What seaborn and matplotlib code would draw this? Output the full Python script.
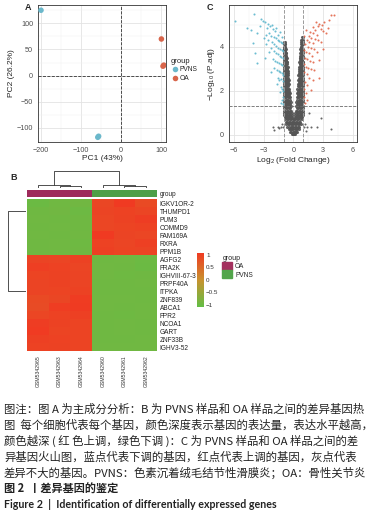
import numpy as np
import pandas as pd
import seaborn as sns
import matplotlib.pyplot as plt
from matplotlib.colors import LinearSegmentedColormap, ListedColormap
from matplotlib.patches import Patch

# ---------------- data ----------------
# A: PCA
pca_pc1 = [-200, -58, -56, 101, 107, 105]
pca_pc2 = [125, -118, -116, 70, 20, 18]
pca_group = ["PVNS", "PVNS", "PVNS", "OA", "OA", "OA"]

# C: volcano, grey cloud read row by row (y level -> x positions)
gray_levels = [0.02, 0.12, 0.25, 0.35, 0.5, 0.7, 0.9, 1.1, 1.3, 1.5, 1.7, 1.9, 2.1,
               2.3, 2.5, 2.7, 2.9, 3.1, 3.3, 3.5, 3.7, 3.9, 4.1, 4.3, 4.45,
               0.6, 0.8, 1.0, 1.2, 1.4, 1.6, 1.8, 2.0, 2.2, 2.4, 2.6, 2.8, 3.0,
               3.2, 3.4, 3.6, 3.8, 4.0, 4.2]
gray_rows = [
    [-0.2, -0.1, 0.0, 0.08, 0.18],
    [-0.35, -0.22, -0.1, 0.02, 0.12, 0.25, 0.34],
    [-0.5, -0.38, -0.25, -0.12, 0.0, 0.13, 0.27, 0.4, 0.52],
    [-0.62, -0.45, -0.3, -0.15, 0.0, 0.15, 0.3, 0.46, 0.6],
    [-0.75, -0.6, -0.45, -0.3, -0.15, 0.0, 0.15, 0.3, 0.45, 0.6, 0.76],
    [-0.85, -0.7, -0.55, -0.4, -0.25, -0.1, 0.05, 0.2, 0.35, 0.5, 0.65, 0.82],
    [-0.95, -0.8, -0.65, -0.5, -0.35, -0.2, 0.2, 0.35, 0.5, 0.65, 0.8, 0.95],
    [-1.0, -0.85, -0.7, -0.55, -0.4, -0.25, 0.25, 0.4, 0.55, 0.7, 0.85, 1.0],
    [-0.98, -0.84, -0.7, -0.56, -0.42, -0.28, 0.28, 0.42, 0.56, 0.7, 0.84, 0.98],
    [-0.97, -0.83, -0.69, -0.55, -0.41, -0.3, 0.3, 0.42, 0.56, 0.7, 0.84, 0.98],
    [-0.98, -0.85, -0.72, -0.59, -0.46, -0.34, 0.34, 0.46, 0.59, 0.72, 0.85, 0.98],
    [-0.98, -0.86, -0.74, -0.62, -0.5, -0.38, 0.36, 0.48, 0.6, 0.72, 0.85, 0.98],
    [-0.98, -0.87, -0.76, -0.65, -0.54, -0.42, 0.4, 0.51, 0.63, 0.75, 0.87, 0.98],
    [-0.98, -0.88, -0.78, -0.68, -0.57, -0.46, 0.44, 0.55, 0.66, 0.77, 0.88, 0.98],
    [-0.98, -0.88, -0.78, -0.69, -0.6, -0.5, 0.47, 0.57, 0.68, 0.78, 0.88, 0.98],
    [-0.98, -0.89, -0.8, -0.71, -0.62, -0.53, 0.5, 0.6, 0.7, 0.8, 0.9, 0.98],
    [-0.98, -0.89, -0.8, -0.72, -0.63, -0.56, 0.53, 0.62, 0.72, 0.81, 0.9, 0.98],
    [-0.98, -0.9, -0.82, -0.74, -0.66, -0.59, 0.56, 0.65, 0.74, 0.82, 0.91, 0.98],
    [-0.98, -0.9, -0.83, -0.75, -0.68, -0.62, 0.58, 0.67, 0.76, 0.84, 0.92, 0.98],
    [-0.98, -0.91, -0.84, -0.77, -0.7, 0.62, 0.7, 0.78, 0.86, 0.94],
    [-0.98, -0.92, -0.85, -0.78, -0.72, 0.66, 0.74, 0.82, 0.9, 0.98],
    [-0.98, -0.92, -0.86, -0.8, 0.7, 0.78, 0.86, 0.94],
    [-0.97, -0.9, -0.84, 0.75, 0.83, 0.91, 0.98],
    [0.8, 0.88, 0.96],
    [0.86, 0.95],
    [-0.8, -0.65, -0.5, -0.35, -0.2, -0.05, 0.1, 0.25, 0.4, 0.55, 0.7],
    [-0.9, -0.75, -0.6, -0.45, -0.3, -0.15, 0.15, 0.3, 0.45, 0.6, 0.75, 0.9],
    [-0.92, -0.78, -0.62, -0.48, -0.33, -0.2, 0.2, 0.33, 0.48, 0.62, 0.78, 0.93],
    [-0.92, -0.77, -0.63, -0.49, -0.35, 0.35, 0.49, 0.63, 0.77, 0.92],
    [-0.91, -0.76, -0.62, -0.48, -0.36, 0.36, 0.49, 0.63, 0.77, 0.91],
    [-0.92, -0.79, -0.66, -0.53, -0.4, 0.4, 0.53, 0.66, 0.79, 0.92],
    [-0.92, -0.8, -0.68, -0.56, -0.44, 0.42, 0.54, 0.66, 0.79, 0.92],
    [-0.93, -0.81, -0.7, -0.59, -0.48, 0.45, 0.57, 0.69, 0.81, 0.93],
    [-0.93, -0.83, -0.73, -0.62, -0.52, 0.49, 0.6, 0.71, 0.82, 0.93],
    [-0.93, -0.83, -0.74, -0.64, -0.55, 0.52, 0.62, 0.73, 0.83, 0.93],
    [-0.94, -0.84, -0.75, -0.66, -0.57, 0.55, 0.65, 0.75, 0.85, 0.94],
    [-0.94, -0.85, -0.76, -0.67, -0.6, 0.58, 0.67, 0.76, 0.85, 0.94],
    [-0.94, -0.86, -0.78, -0.7, -0.62, 0.6, 0.69, 0.78, 0.87, 0.95],
    [-0.94, -0.86, -0.79, -0.72, -0.65, 0.62, 0.71, 0.8, 0.88, 0.95],
    [-0.95, -0.87, -0.8, -0.73, 0.64, 0.73, 0.82, 0.9],
    [-0.95, -0.88, -0.81, -0.75, 0.68, 0.76, 0.84, 0.92],
    [-0.95, -0.89, -0.83, 0.72, 0.8, 0.88, 0.96],
    [-0.94, -0.87, -0.82, 0.73, 0.81, 0.89],
    [-0.95, -0.9, 0.78, 0.86, 0.94],
]
# sparse grey points away from the V
gray_sparse_x = [-2.1, -1.6, -1.3, -1.1, -1.2, 1.1, 1.15, 1.4, 1.8, 2.4, -1.5, 1.6, 2.8, 3.8, -2.0, 1.3]
gray_sparse_y = [0.35, 0.35, 0.35, 0.35, 0.5, 0.35, 0.5, 0.35, 0.35, 0.35, 0.3, 1.0, 0.75, 0.26, 0.22, 0.18]

down_x = [-5.95, -4.05, -4.7, -4.3, -3.65, -4.15, -3.65, -2.3, -1.45, -1.28, -1.1,
          -3.3, -3.05, -2.85, -2.6, -2.4, -2.2, -3.4, -2.7, -2.1, -1.9,
          -2.45, -2.25, -2.0, -1.8, -1.6, -1.45, -1.3, -1.15,
          -2.6, -2.15, -1.95, -1.75, -1.55, -1.35, -1.2, -1.05,
          -2.3, -2.0, -1.8, -1.6, -1.4, -1.25, -1.1,
          -2.1, -1.85, -1.65, -1.45, -1.3, -1.12,
          -1.95, -1.7, -1.5, -1.35, -1.18, -1.05,
          -1.6, -1.3, -1.1, -1.7, -1.2, -1.05, -1.4, -1.15, -1.3, -1.05,
          -2.8, -3.0, -2.75, -2.5, -3.9, -2.9, -1.55, -1.35, -1.2, -1.75]
down_y = [5.17, 5.47, 4.87, 4.75, 4.6, 4.15, 3.24, 2.86, 2.49, 2.19, 1.73,
          5.25, 5.15, 5.1, 5.05, 4.95, 5.0, 4.95, 4.85, 4.8, 4.7,
          4.6, 4.5, 4.45, 4.4, 4.3, 4.25, 4.2, 4.15,
          4.3, 4.2, 4.1, 4.05, 3.95, 3.9, 3.85, 3.8,
          3.95, 3.8, 3.7, 3.65, 3.6, 3.55, 3.5,
          3.45, 3.35, 3.3, 3.25, 3.2, 3.15,
          3.05, 2.95, 2.9, 2.85, 2.8, 2.7,
          2.6, 2.55, 2.45, 2.3, 2.1, 2.0, 1.95, 1.6, 1.45, 1.4,
          4.55, 4.4, 4.1, 3.75, 3.7, 3.5, 4.55, 4.65, 4.45, 4.85]

up_x = [3.8, 4.1, 3.6, 3.45, 2.27, 1.93, 2.1, 1.93, 1.76, 1.42, 3.28,
        2.6, 2.9, 3.1, 2.45, 2.2, 2.75, 3.0, 1.7, 2.0, 2.4, 1.55,
        1.8, 2.15, 1.35, 1.6, 1.95, 2.5, 1.2, 1.45, 1.75, 2.1,
        1.1, 1.3, 1.6, 1.9, 2.35, 1.15, 1.4, 1.7, 2.0, 2.6,
        1.05, 1.25, 1.5, 1.8, 1.1, 1.35, 1.6, 1.15, 1.4, 1.05, 1.25, 1.1, 1.2,
        2.6, 3.0, 2.8, 1.05, 1.3]
up_y = [5.43, 5.43, 5.2, 4.85, 5.13, 4.9, 2.94, 2.49, 2.04, 1.58, 4.6,
        5.05, 5.0, 5.1, 4.95, 4.75, 4.8, 4.7, 4.65, 4.6, 4.55, 4.5,
        4.4, 4.35, 4.3, 4.2, 4.15, 4.3, 4.1, 4.0, 3.95, 3.9,
        3.85, 3.75, 3.7, 3.6, 3.75, 3.5, 3.45, 3.35, 3.3, 3.4,
        3.2, 3.1, 3.05, 3.0, 2.85, 2.75, 2.6, 2.4, 2.25, 2.1, 1.9, 1.7, 1.45,
        2.6, 3.9, 4.2, 4.5, 4.75]

# B: heatmap
genes = ["IGKV1OR-2", "THUMPD1", "PUM3", "COMMD9", "FAM169A", "RXRA", "PPM1B",
         "AGFG2", "FRA2K", "IGHVIII-67-3", "PRPF40A", "ITPKA", "ZNF839", "ABCA1",
         "FPR2", "NCOA1", "GART", "ZNF33B", "IGHV3-52"]
samples = ["GSM5342965", "GSM5342963", "GSM5342964",
           "GSM5342960", "GSM5342961", "GSM5342962"]
sample_group = ["OA", "OA", "OA", "PVNS", "PVNS", "PVNS"]
expr = [
    [-1.00, -0.95, -0.93, 0.92, 1.08, 0.88],
    [-0.96, -0.93, -0.98, 0.95, 0.98, 0.94],
    [-0.95, -0.96, -0.96, 0.93, 0.97, 1.03],
    [-0.96, -0.95, -0.96, 0.93, 0.96, 0.98],
    [-0.95, -0.96, -0.95, 1.08, 0.95, 0.93],
    [-0.96, -0.94, -0.97, 0.98, 0.94, 1.00],
    [-0.96, -0.95, -0.96, 1.00, 0.96, 0.95],
    [0.95, 0.94, 0.97, -0.96, -0.95, -0.99],
    [1.02, 0.98, 0.94, -0.95, -0.96, -1.00],
    [0.96, 0.97, 0.95, -0.95, -0.97, -0.96],
    [0.95, 0.97, 0.95, -0.96, -0.96, -0.95],
    [0.95, 0.96, 0.97, -0.96, -0.96, -0.96],
    [0.88, 0.92, 1.05, -0.94, -0.95, -0.96],
    [0.86, 1.04, 1.06, -0.95, -0.96, -0.95],
    [0.93, 0.98, 1.00, -0.96, -0.97, -0.95],
    [1.03, 0.97, 0.96, -0.96, -0.95, -0.96],
    [1.07, 0.96, 0.96, -0.96, -0.95, -0.96],
    [1.00, 0.98, 0.96, -0.96, -0.96, -0.94],
    [0.98, 0.97, 0.96, -0.95, -0.95, -0.94],
]
# merges (left, right, height), scipy-style ids
col_merges = [(1, 2, 0.6), (0, 6, 1.0), (4, 5, 0.6), (3, 8, 1.0), (7, 9, 5.5)]
row_merges = [(5, 6, 0.05), (4, 19, 0.06), (3, 20, 0.07), (2, 21, 0.08), (1, 22, 0.09),
              (0, 23, 0.1),
              (11, 12, 0.05), (10, 25, 0.06), (9, 26, 0.07), (8, 27, 0.08), (7, 28, 0.09),
              (17, 18, 0.05), (16, 30, 0.06), (15, 31, 0.07), (14, 32, 0.08), (13, 33, 0.09),
              (29, 34, 0.12), (24, 35, 10.0)]

caption = [
    "图注：图 A 为主成分分析：B 为 PVNS 样品和 OA 样品之间的差异基因热",
    "图  每个细胞代表每个基因，颜色深度表示基因的表达量，表达水平越高，",
    "颜色越深 ( 红 色上调，绿色下调 )：C 为 PVNS 样品和 OA 样品之间的差",
    "异基因火山图，蓝点代表下调的基因，红点代表上调的基因，灰点代表",
    "差异不大的基因。PVNS：色素沉着绒毛结节性滑膜炎；OA：骨性关节炎",
]
title_cn = "图 2  丨差异基因的鉴定"
title_en = "Figure 2  |  Identification of differentially expressed genes"

# ---------------- style ----------------
sns.set_theme(style="white")
plt.rcParams['font.family'] = ['Liberation Sans', 'Noto Sans CJK SC', 'DejaVu Sans']
plt.rcParams['mathtext.default'] = 'regular'

W, H = 374, 520
fig = plt.figure(figsize=(W / 100, H / 100), dpi=100)


def rect(x0, y0, x1, y1):
    return [x0 / W, 1 - y1 / H, (x1 - x0) / W, (y1 - y0) / H]


def bw_axes(ax):
    ax.set_facecolor("white")
    ax.set_axisbelow(True)
    ax.grid(which="major", color="#E3E3E3", lw=0.6)
    ax.grid(which="minor", color="#F0F0F0", lw=0.35)
    ax.tick_params(which="major", length=2, width=0.5, color="#333333",
                   labelsize=5.2, labelcolor="#4D4D4D", pad=1.5)
    ax.tick_params(which="minor", length=0)
    for s in ax.spines.values():
        s.set_color("#333333")
        s.set_linewidth(0.6)


# ---------------- A: PCA ----------------
ax_a = fig.add_axes(rect(38, 5, 166, 142))
df_pca = pd.DataFrame({"PC1": pca_pc1, "PC2": pca_pc2, "group": pca_group})
sns.scatterplot(data=df_pca, x="PC1", y="PC2", hue="group", hue_order=["PVNS", "OA"],
                palette={"PVNS": "#6BB8CB", "OA": "#D8654B"}, s=16, linewidth=0,
                ax=ax_a, zorder=3)
ax_a.axvline(0, ls="--", color="#333333", lw=0.6, zorder=2)
ax_a.axhline(0, ls="--", color="#333333", lw=0.6, zorder=2)
ax_a.set_xlim(-207.5, 112.5)
ax_a.set_ylim(-127, 135)
ax_a.set_xticks([-200, -100, 0, 100])
ax_a.set_xticks([-150, -50, 50], minor=True)
ax_a.set_yticks([-100, -50, 0, 50, 100])
ax_a.set_yticks([-125, -75, -25, 25, 75, 125], minor=True)
bw_axes(ax_a)
ax_a.set_xlabel("PC1 (43%)", fontsize=6, labelpad=1)
ax_a.set_ylabel("PC2 (26.2%)", fontsize=6, labelpad=1)
sns.move_legend(ax_a, "upper left", bbox_to_anchor=(1.01, 0.64), frameon=False,
                title="group", title_fontsize=5.5, fontsize=4.8, handletextpad=0.1,
                borderpad=0, labelspacing=0.25, handlelength=1.2, alignment="left")
fig.text(25 / W, 1 - 8 / H, "A", fontsize=6.5, weight="bold", va="center")

# ---------------- C: volcano ----------------
ax_c = fig.add_axes(rect(229, 5, 357, 142))
gx, gy = [], []
for lvl, row in zip(gray_levels, gray_rows):
    gx += row
    gy += [lvl] * len(row)
df_v = pd.DataFrame({
    "lfc": gx + gray_sparse_x + down_x + up_x,
    "padj": gy + gray_sparse_y + down_y + up_y,
    "change": ["NOT"] * len(gx) + ["SPARSE"] * len(gray_sparse_x)
              + ["DOWN"] * len(down_x) + ["UP"] * len(up_x),
})
vol_colors = {"NOT": "#555555", "SPARSE": "#555555", "DOWN": "#5BB6CD", "UP": "#E2664A"}
vol_sizes = {"NOT": 5, "SPARSE": 2.2, "DOWN": 2.2, "UP": 2.2}
for key in ["NOT", "SPARSE", "DOWN", "UP"]:
    sub = df_v[df_v.change == key]
    sns.scatterplot(data=sub, x="lfc", y="padj", color=vol_colors[key], s=vol_sizes[key],
                    linewidth=0, alpha=0.9, ax=ax_c, zorder=3, legend=False)
ax_c.axvline(-1, ls="--", color="#9A9A9A", lw=0.7, zorder=4)
ax_c.axvline(1, ls="--", color="#9A9A9A", lw=0.7, zorder=4)
ax_c.axhline(1.3, ls="--", color="#6A6A6A", lw=0.6, zorder=4)
ax_c.set_xlim(-6.54, 6.44)
ax_c.set_ylim(-0.32, 5.89)
ax_c.set_xticks([-6, -3, 0, 3, 6])
ax_c.set_xticks([-4.5, -1.5, 1.5, 4.5], minor=True)
ax_c.set_yticks([0, 2, 4])
ax_c.set_yticks([1, 3, 5], minor=True)
bw_axes(ax_c)
ax_c.set_xlabel("Log$_2$ (Fold Change)", fontsize=6, labelpad=1)
ax_c.set_ylabel("\u2212Log$_{10}$ (P.adj)", fontsize=6, labelpad=2)
fig.text(207 / W, 1 - 8 / H, "C", fontsize=6.5, weight="bold", va="center")

# ---------------- B: heatmap ----------------
fig.text(10 / W, 1 - 178 / H, "B", fontsize=6.5, weight="bold", va="center")
cmap = LinearSegmentedColormap.from_list("gr", ["#62BE45", "#C8922F", "#F03A22"])
df_hm = pd.DataFrame(expr, index=genes, columns=samples)
ax_hm = fig.add_axes(rect(27, 199, 157, 351))
ax_cb = fig.add_axes(rect(197, 253, 204, 307))
sns.heatmap(df_hm, cmap=cmap, vmin=-1.1, vmax=1.08, ax=ax_hm, cbar_ax=ax_cb,
            xticklabels=True, yticklabels=True, cbar_kws={"ticks": [-1, -0.5, 0, 0.5, 1]})
ax_hm.yaxis.tick_right()
ax_hm.tick_params(axis="y", length=0, labelsize=4.7, pad=2, labelrotation=0, labelcolor="#222222")
ax_hm.tick_params(axis="x", length=0, labelsize=3.7, pad=3, labelrotation=90, labelcolor="#333333")
ax_hm.set_xlabel("")
ax_hm.set_ylabel("")
ax_cb.tick_params(labelsize=4.5, length=2, width=0.6, color="white", direction="in", pad=1.5,
                  labelcolor="#333333")
ax_cb.set_yticklabels(["\u22121", "\u22120.5", "0", "0.5", "1"])
for s in ax_cb.spines.values():
    s.set_visible(False)

# group annotation bar
grp_codes = pd.DataFrame([[0 if g == "OA" else 1 for g in sample_group]],
                         index=["group"], columns=samples)
ax_g = fig.add_axes(rect(27, 190, 157, 196.5))
sns.heatmap(grp_codes, cmap=ListedColormap(["#9E2A5B", "#4E9F47"]), cbar=False, ax=ax_g,
            xticklabels=False, yticklabels=True)
ax_g.yaxis.tick_right()
ax_g.tick_params(axis="y", length=0, labelsize=4.7, pad=2, labelrotation=0, labelcolor="#222222")

# group legend
fig.text(223 / W, 1 - 258 / H, "group", fontsize=5, va="center", color="#222222")
fig.legend(handles=[Patch(color="#A3305E", label="OA"), Patch(color="#52A54B", label="PVNS")],
           loc="upper left", bbox_to_anchor=(222 / W, 1 - 262 / H), frameon=False,
           fontsize=4.7, handlelength=1.6, handleheight=1.5, handletextpad=0.4,
           labelspacing=0.05, borderpad=0, borderaxespad=0)


def draw_dendro(ax, merges, n, orient):
    pos = {i: i + 0.5 for i in range(n)}
    hgt = {i: 0.0 for i in range(n)}
    for k, (a, b, h) in enumerate(merges):
        xs = [pos[a], pos[a], pos[b], pos[b]]
        ys = [hgt[a], h, h, hgt[b]]
        if orient == "top":
            ax.plot(xs, ys, color="#333333", lw=0.6)
        else:
            ax.plot(ys, xs, color="#333333", lw=0.6)
        pos[n + k] = (pos[a] + pos[b]) / 2
        hgt[n + k] = h
    top = merges[-1][2]
    if orient == "top":
        ax.set_xlim(0, n)
        ax.set_ylim(0, top * 1.0)
    else:
        ax.set_ylim(n, 0)
        ax.set_xlim(top * 1.0, 0)
    ax.axis("off")


ax_cd = fig.add_axes(rect(27, 171, 157, 188))
draw_dendro(ax_cd, col_merges, len(samples), "top")
ax_rd = fig.add_axes(rect(8, 199, 26, 351))
draw_dendro(ax_rd, row_merges, len(genes), "left")

# ---------------- caption ----------------
cjk = ["Noto Sans CJK SC", "DejaVu Sans"]
for i, line in enumerate(caption):
    fig.text(4 / W, 1 - (409 + i * 16) / H, line, fontsize=8.2, va="center", ha="left",
             family=cjk, color="#222222")
fig.text(4 / W, 1 - 489 / H, title_cn, fontsize=8.0, va="center", ha="left",
         family=cjk, weight="bold", color="#222222")
fig.text(4 / W, 1 - 505 / H, title_en, fontsize=7.7, va="center", ha="left",
         family=["Lato", "DejaVu Sans"], weight="bold", color="#222222")

fig.savefig("out.png", dpi=100)
